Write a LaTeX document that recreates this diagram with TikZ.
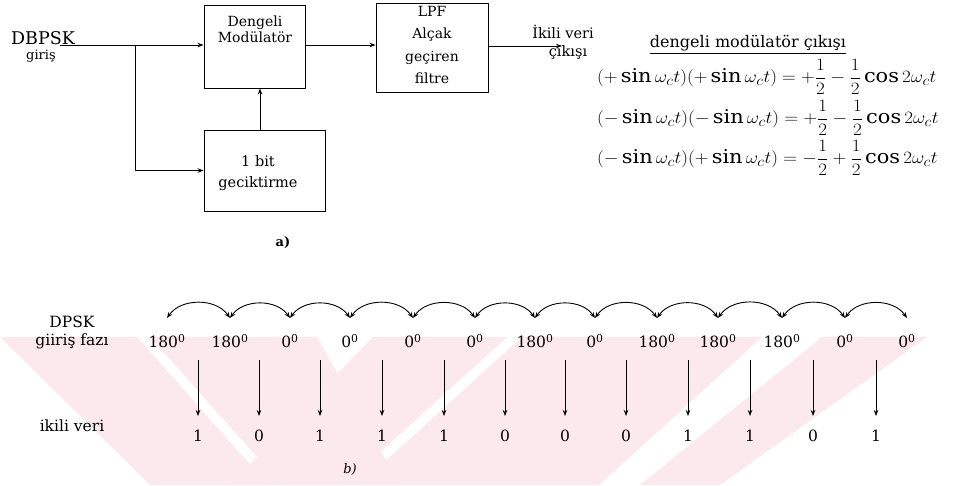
\documentclass[tikz,border=0pt]{standalone}
\usepackage{amsmath}
\usepackage{graphicx}
\usepackage{fontspec}
\setmainfont{DejaVu Serif}
\usetikzlibrary{arrows.meta}
\definecolor{wm}{RGB}{252,233,237}
\begin{document}
\begin{tikzpicture}[x=1pt,y=-1pt,
  box/.style={draw, line width=0.9pt, inner sep=0pt},
  txt/.style={inner sep=0pt, align=center},
  arr/.style={-{Stealth[length=6pt,width=4.5pt]}, line width=0.9pt},
  arc/.style={{Stealth[length=6pt,width=4.5pt]}-{Stealth[length=6pt,width=4.5pt]}, line width=0.9pt},
  lab/.style={inner sep=1pt, font=\fontsize{13}{16}\selectfont},
  blab/.style={inner sep=1pt, font=\fontsize{15.5}{18}\selectfont},
  eqn/.style={anchor=west, inner sep=0pt, font=\fontsize{19}{22}\selectfont}]
\useasboundingbox (0,0) rectangle (955,485);

% background stripes
\fill[wm] (0,337) -- (137,337) -- (268,485) -- (150,485) -- cycle;
\fill[wm] (150,337) -- (317,337) -- (400,485) -- (282,485) -- cycle;
\fill[wm] (373,337) -- (507,337) -- (344,485) -- (230,485) -- cycle;
\fill[wm] (522,337) -- (762,337) -- (599,485) -- (359,485) -- cycle;
\fill[wm] (822,337) -- (927,337) -- (720,485) -- (640,485) -- cycle;

% (a) block diagram
\node[box, minimum width=101pt, minimum height=83pt] (dm) at (254.5,46.5) {};
\node[txt, font=\fontsize{14}{16}\selectfont] (dmt) at (255,29) {Dengeli\\Modülatör};
\node[box, minimum width=121pt, minimum height=81pt] (gec) at (264.5,170.5) {};
\node[txt, font=\fontsize{14.5}{21}\selectfont] (gect) at (258,173) {1 bit\\geciktirme};
\node[box, minimum width=112pt, minimum height=89pt] (lpf) at (432,47.5) {};
\node[txt, font=\fontsize{14}{22.5}\selectfont] (lpft) at (432,45) {LPF\\Alçak\\geçiren\\filtre};

\node[lab, font=\fontsize{17.5}{20}\selectfont] (dbpsk) at (43,38) {DBPSK};
\node[lab, font=\fontsize{13}{16}\selectfont] (giris) at (41,56) {giriş};

\coordinate (in) at (60,45);
\coordinate (br) at (135,45);
\coordinate (vx) at (260,0);
\coordinate (out) at (562,46);

\draw[arr] (in) -- (in -| dm.west);
\draw[arr] (br) |- (gec.west);
\draw[arr] (vx |- gec.north) -- (vx |- dm.south);
\draw[arr] (in -| dm.east) -- (in -| lpf.west);
\draw[arr] (out -| lpf.east) -- (out);

\node[lab, font=\fontsize{14.5}{17}\selectfont] (ikv) at (563,32) {İkili veri};
\node[lab, font=\fontsize{14.5}{17}\selectfont] (cik) at (568,52) {çıkışı};

\node[lab, font=\fontsize{13}{16}\selectfont\bfseries] (alab) at (283,243) {a)};

% balanced modulator output
\node[lab, anchor=base, font=\fontsize{16}{18}\selectfont] (title) at (748,47) {\underline{dengeli modülatör çıkışı}};
\node[eqn] (eq1) at (597,77) {\scalebox{1.1}[1]{$(+\sin\omega_c t)(+\sin\omega_c t) = +\dfrac{1}{2} - \dfrac{1}{2}\cos 2\omega_c t$}};
\node[eqn] (eq2) at (597,118) {\scalebox{1.1}[1]{$(-\sin\omega_c t)(-\sin\omega_c t) = +\dfrac{1}{2} - \dfrac{1}{2}\cos 2\omega_c t$}};
\node[eqn] (eq3) at (597,158) {\scalebox{1.1}[1]{$(-\sin\omega_c t)(+\sin\omega_c t) = -\dfrac{1}{2} + \dfrac{1}{2}\cos 2\omega_c t$}};

% (b) phase comparison
\node[blab] (dpsk) at (72,322) {DPSK};
\node[blab] (gf) at (72,341) {giiriş fazı};
\node[blab] (ikili) at (72,426) {ikili veri};
\node[lab] (bl) at (350,470) {\itshape b)};

\foreach \x/\ph [count=\i] in {167/180,230/180,290/0,350/0,413/0,475/0,535/180,595/0,657/180,718/180,782/180,845/0,907/0} {
  \coordinate (p\i) at (\x,318);
  \node[blab] (ph\i) at (\x,341) {\ph\textsuperscript{0}};
}
\foreach \i [evaluate=\i as \j using {int(\i+1)}] in {1,...,12}
  \draw[arc] (p\i) to[bend left=55] (p\j);

\foreach \m/\b [count=\i] in {198/1,259/0,320/1,382/1,444/1,505/0,565/0,626/0,688/1,750/1,813/0,876/1} {
  \coordinate (t\i) at (\m,360);
  \coordinate (e\i) at (\m,416);
  \draw[arr] (t\i) -- (e\i);
  \node[blab] (d\i) at (\m,436) {\b};
}
\end{tikzpicture}
\end{document}
